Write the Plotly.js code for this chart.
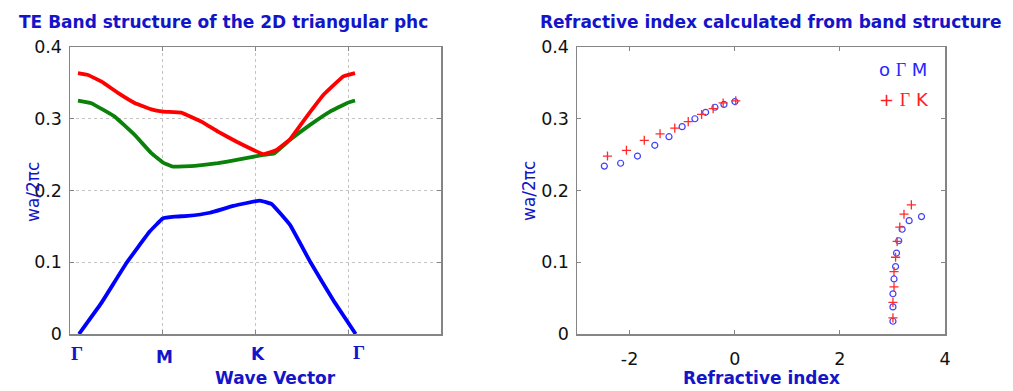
<!DOCTYPE html>
<html>
<head>
<meta charset="utf-8">
<script src="https://cdn.plot.ly/plotly-3.0.1.min.js"></script>
<style>html,body{margin:0;padding:0;background:#fff;}#chart{width:1013px;height:391px;}</style>
</head>
<body>
<div id="chart"></div>
<script>
// ---- Left panel: TE band structure (wave vector path Γ-M-K-Γ) ----
const kBand1 = [0.097, 0.337, 0.607, 0.859, 1.0, 1.13, 1.27, 1.509, 1.761, 2.048, 2.175, 2.372, 2.588, 2.839, 3.08];
const band1  = [0, 0.043, 0.0986, 0.1427, 0.161, 0.1636, 0.1646, 0.169, 0.1785, 0.186, 0.181, 0.152, 0.101, 0.047, 0];

const kBand2 = [0.086, 0.23, 0.482, 0.697, 0.877, 1.003, 1.11, 1.344, 1.596, 1.797, 2.084, 2.2, 2.372, 2.588, 2.803, 2.983, 3.073];
const band2  = [0.3254, 0.3217, 0.303, 0.2775, 0.252, 0.239, 0.2334, 0.2343, 0.238, 0.2427, 0.2497, 0.2515, 0.2706, 0.2915, 0.310, 0.3217, 0.3254];

const kBand3 = [0.086, 0.194, 0.337, 0.517, 0.697, 0.877, 1.003, 1.20, 1.416, 1.596, 1.797, 2.084, 2.228, 2.372, 2.552, 2.731, 2.947, 3.073];
const band3  = [0.3636, 0.361, 0.352, 0.336, 0.322, 0.313, 0.310, 0.3086, 0.296, 0.282, 0.268, 0.2506, 0.2566, 0.2715, 0.303, 0.333, 0.359, 0.3636];

const kTickLabels = ['Γ', 'M', 'K', 'Γ'];
const kTickPos    = [0.075, 1.02, 2.03, 3.12];

// ---- Right panel: refractive index from band structure ----
const nGM = [-2.48, -2.17, -1.85, -1.52, -1.25, -1.0, -0.757, -0.553, -0.376, -0.205, 0.004,
             3.553, 3.318, 3.185, 3.12, 3.078, 3.06, 3.03, 3.01, 3.01, 3.01];
const fGM = [0.234, 0.238, 0.248, 0.263, 0.275, 0.289, 0.300, 0.309, 0.316, 0.320, 0.324,
             0.1636, 0.158, 0.146, 0.130, 0.1128, 0.094, 0.0767, 0.056, 0.0378, 0.0178];

const nGK = [-2.42, -2.06, -1.72, -1.42, -1.14, -0.884, -0.63, -0.41, -0.22, 0.02,
             3.36, 3.22, 3.14, 3.09, 3.06, 3.03, 3.03, 3.01, 3.01];
const fGK = [0.248, 0.256, 0.270, 0.279, 0.287, 0.296, 0.306, 0.314, 0.322, 0.325,
             0.18, 0.167, 0.149, 0.129, 0.107, 0.087, 0.0656, 0.044, 0.0225];

const nTicks = [-2, 0, 2, 4];
const fTicks = [0, 0.1, 0.2, 0.3, 0.4];

const FONT = 'DejaVu Sans, Arial, sans-serif';
const BLUE_TXT = '#1414c8';

const lineStyle = c => ({color: c, width: 3.8, shape: 'spline', smoothing: 0.25});

const traces = [
  {x: kBand1, y: band1, type: 'scatter', mode: 'lines', line: lineStyle('#0000ff'), xaxis: 'x', yaxis: 'y', showlegend: false},
  {x: kBand2, y: band2, type: 'scatter', mode: 'lines', line: lineStyle('#0a820a'), xaxis: 'x', yaxis: 'y', showlegend: false},
  {x: kBand3, y: band3, type: 'scatter', mode: 'lines', line: lineStyle('#ff0000'), xaxis: 'x', yaxis: 'y', showlegend: false},
  {x: nGM, y: fGM, type: 'scatter', mode: 'markers', name: 'Γ M',
   marker: {symbol: 'circle-open', size: 6, color: '#4040ff', line: {width: 1.2, color: '#4040ff'}}, xaxis: 'x2', yaxis: 'y2', showlegend: false},
  {x: nGK, y: fGK, type: 'scatter', mode: 'markers', name: 'Γ K',
   marker: {symbol: 'cross-thin-open', size: 6.5, color: '#ff2a2a', line: {width: 1.3, color: '#ff2a2a'}}, xaxis: 'x2', yaxis: 'y2', showlegend: false}
];

const W = 1013, H = 391;
const px = v => v / W;
const py = v => (H - v) / H;

const axisCommon = {
  showline: true, linecolor: '#858585', linewidth: 1.5, mirror: 'ticks',
  ticks: 'inside', ticklen: 4, tickcolor: '#858585', zeroline: false,
  tickfont: {family: FONT, size: 17.5, color: '#111111'}
};

const annotations = [
  {text: '<b>TE Band structure of the 2D triangular phc</b>', x: px(223), y: py(22), xref: 'paper', yref: 'paper', showarrow: false, xanchor: 'center', yanchor: 'middle', font: {family: FONT, size: 17, color: BLUE_TXT}},
  {text: '<b>Refractive index calculated from band structure</b>', x: px(770), y: py(22), xref: 'paper', yref: 'paper', showarrow: false, xanchor: 'center', yanchor: 'middle', font: {family: FONT, size: 17, color: BLUE_TXT}},
  {text: 'wa/2πc', x: px(33), y: py(192), xref: 'paper', yref: 'paper', showarrow: false, textangle: -90, xanchor: 'center', yanchor: 'middle', font: {family: FONT, size: 17, color: BLUE_TXT}},
  {text: 'wa/2πc', x: px(529), y: py(191), xref: 'paper', yref: 'paper', showarrow: false, textangle: -90, xanchor: 'center', yanchor: 'middle', font: {family: FONT, size: 17, color: BLUE_TXT}},
  {text: '<b>Wave Vector</b>', x: px(275), y: py(378), xref: 'paper', yref: 'paper', showarrow: false, xanchor: 'center', yanchor: 'middle', font: {family: FONT, size: 17, color: BLUE_TXT}},
  {text: '<b>Refractive index</b>', x: px(761), y: py(378), xref: 'paper', yref: 'paper', showarrow: false, xanchor: 'center', yanchor: 'middle', font: {family: FONT, size: 17, color: BLUE_TXT}},
  {text: 'o <span style="font-family:Liberation Serif">Γ</span> M', x: px(877), y: py(70), xref: 'paper', yref: 'paper', showarrow: false, xanchor: 'left', yanchor: 'middle', font: {family: FONT, size: 18, color: '#2626ff'}},
  {text: '+ <span style="font-family:Liberation Serif">Γ</span> K', x: px(877), y: py(99), xref: 'paper', yref: 'paper', showarrow: false, xanchor: 'left', yanchor: 'middle', font: {family: FONT, size: 18, color: '#ff2020'}}
];
const kLabelY = [353, 357, 354, 352];
kTickLabels.forEach((t, i) => {
  const isGamma = t === 'Γ';
  annotations.push({
    text: '<b>' + t + '</b>', x: kTickPos[i], y: py(kLabelY[i]), xref: 'x', yref: 'paper', showarrow: false,
    xanchor: 'center', yanchor: 'middle',
    font: {family: isGamma ? 'Liberation Serif, serif' : FONT, size: isGamma ? 19 : 17, color: BLUE_TXT}
  });
});

const layout = {
  width: W, height: H,
  margin: {l: 0, r: 0, t: 0, b: 0, pad: 0},
  paper_bgcolor: '#ffffff', plot_bgcolor: '#ffffff',
  showlegend: false,
  xaxis: Object.assign({}, axisCommon, {
    domain: [px(70), px(441)], range: [0, 4], tickvals: [1, 2, 3], showticklabels: false,
    showgrid: true, gridcolor: '#c4c4c4', gridwidth: 1, griddash: 'dot', anchor: 'y'
  }),
  yaxis: Object.assign({}, axisCommon, {
    domain: [py(334), py(47)], range: [0, 0.4], tickvals: fTicks, ticktext: fTicks.map(String),
    showgrid: true, gridcolor: '#c4c4c4', gridwidth: 1, griddash: 'dot', anchor: 'x', ticklabelstandoff: 3
  }),
  xaxis2: Object.assign({}, axisCommon, {
    domain: [px(577), px(945)], range: [-3, 4], tickvals: nTicks, ticktext: nTicks.map(String),
    showgrid: false, anchor: 'y2', ticklabelstandoff: 8
  }),
  yaxis2: Object.assign({}, axisCommon, {
    domain: [py(334), py(47)], range: [0, 0.4], tickvals: fTicks, ticktext: fTicks.map(String),
    showgrid: false, anchor: 'x2', ticklabelstandoff: 3
  }),
  annotations: annotations
};

Plotly.newPlot('chart', traces, layout, {staticPlot: true, displayModeBar: false});
</script>
</body>
</html>
